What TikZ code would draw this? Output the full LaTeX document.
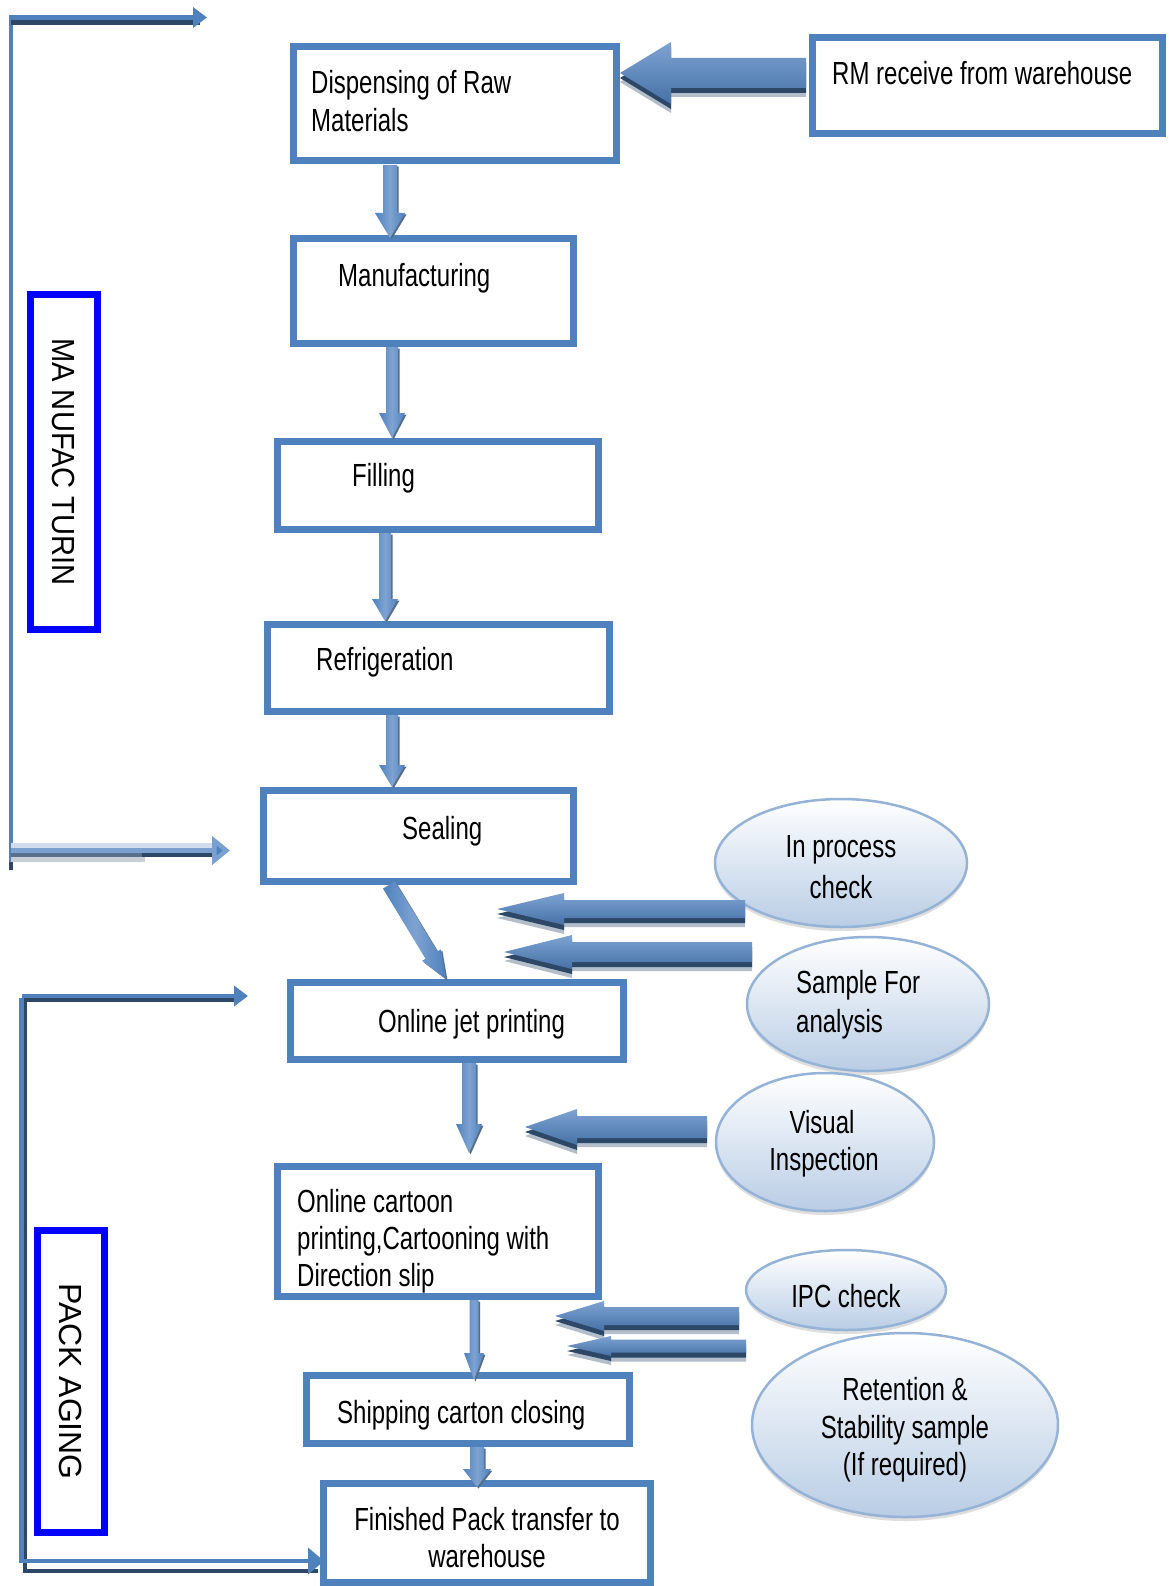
\documentclass[tikz,border=0pt]{standalone}
\usepackage{fontspec}
\setmainfont{Liberation Sans}[FakeStretch=0.75]
\newfontfamily\vfontA{Liberation Sans}[FakeStretch=0.91]
\newfontfamily\vfontB{Liberation Sans}[FakeStretch=1.0]
\usetikzlibrary{shapes.geometric,calc,arrows.meta,shadows}
\definecolor{boxblue}{HTML}{4F81BD}
\definecolor{arrlight}{HTML}{7EA3D2}
\definecolor{darkedge}{HTML}{2C4866}
\definecolor{shadowgray}{HTML}{B4BECB}
\definecolor{ellfill}{HTML}{B9CDE5}
\definecolor{elldraw}{HTML}{95B3D7}
\definecolor{pureblue}{HTML}{0000FF}
\definecolor{lightband}{HTML}{D0DCEE}
\definecolor{midband}{HTML}{7AA0D0}
\definecolor{greyband}{HTML}{C8CED6}
\definecolor{slateband}{HTML}{5A6F8C}
% #1 style, #2 tail, #3 tip, #4 shaft half width, #5 head half width, #6 head length
\newcommand\fatarrow[6]{%
  \path[#1] let \p9=($(#3)!#6!(#2)$) in
    ($(#2)!#4!90:(#3)$) -- ($(\p9)!#4!90:(#3)$) -- ($(\p9)!#5!90:(#3)$) -- (#3)
    -- ($(\p9)!#5!-90:(#3)$) -- ($(\p9)!#4!-90:(#3)$) -- ($(#2)!#4!-90:(#3)$) -- cycle;}
\begin{document}
\begin{tikzpicture}[x=1pt,y=-1pt,
  box/.style={draw=boxblue, line width=7pt, fill=white, inner sep=0pt},
  tagbox/.style={draw=pureblue, line width=7pt, fill=white, inner sep=0pt},
  oval/.style={ellipse, draw=elldraw, line width=2.5pt, inner sep=0pt,
    top color=white, bottom color=ellfill,
    drop shadow={shadow xshift=0pt, shadow yshift=-4pt, fill=gray!50, opacity=0.5}},
  lt/.style={inner sep=0pt, anchor=base west, font=\fontsize{32}{37}\selectfont},
  ct/.style={inner sep=0pt, anchor=base, font=\fontsize{32}{37}\selectfont},
  hfat/.style={preaction={fill=shadowgray, transform canvas={yshift=-9pt}},
    preaction={fill=darkedge, transform canvas={yshift=-5pt}},
    top color=arrlight, middle color=boxblue, bottom color=boxblue!88!black},
  vfat/.style={preaction={fill=darkedge!80, transform canvas={xshift=1.5pt,yshift=-1.5pt}},
    left color=boxblue, right color=boxblue, middle color=arrlight},
  brk/.style={line width=4.5pt, boxblue},
  brkdark/.style={line width=4.5pt, darkedge},
  brktip/.style={-{Triangle[length=14pt,width=20pt]}},
]
\useasboundingbox (0,0) rectangle (1168,1586);
\fill[white] (0,0) rectangle (1168,1586);

% ---------- left brackets ----------
\coordinate (mA) at (11,15);
\coordinate (mB) at (11,870);
\coordinate (mTop) at (207,17.5);
\coordinate (mBot) at (230,850.5);
\draw[boxblue, line width=3.5pt] (mA) -- (11,862);
\draw[darkedge, line width=3.5pt] (11,862) -- (mB);
\draw[darkedge, line width=5pt] (11,22.5) -- (200,22.5);
\draw[boxblue, line width=5pt, brktip] (11,17.5) -- (mTop);
\draw[lightband, line width=5pt] (11,845.5) -- (214,845.5);
\draw[greyband, line width=5pt] (11,859.5) -- (145,859.5);
\draw[slateband, line width=4pt] (11,855) -- (142,855);
\draw[darkedge, line width=4pt] (142,855) -- (222,855);
\draw[midband, line width=5pt, -{Triangle[length=18pt,width=28pt,fill=boxblue]}] (11,850.5) -- (mBot);

\coordinate (pA) at (21.5,996);
\coordinate (pTop) at (248,996);
\coordinate (pBot) at (324,1561);
\draw[brkdark] (236,1000) -- (25,1000) -- (25,1571) -- (318,1571);
\draw[brk] (21.5,998) -- (21.5,1561) -- (310,1561);
\draw[brk, brktip] (pA) -- (pTop);
\draw[brk, -{Triangle[length=16pt,width=26pt]}] (300,1561) -- (pBot);

% ---------- tag boxes ----------
\node[tagbox, rotate=-90, minimum width=335pt, minimum height=67pt,
  font=\vfontA\fontsize{32}{37}\selectfont] (tagM) at (64,462) {MA NUFAC TURIN};
\node[tagbox, rotate=-90, minimum width=302pt, minimum height=67pt,
  font=\vfontB\fontsize{32}{37}\selectfont] (tagP) at (71,1381.5) {PACK AGING};

% ---------- process boxes ----------
\node[box, minimum width=323pt, minimum height=114pt] (disp) at (455,103.5) {};
\node[box, minimum width=350pt, minimum height=96pt]  (rm)   at (987.5,85.5) {};
\node[box, minimum width=280pt, minimum height=105pt] (manu) at (433.5,291) {};
\node[box, minimum width=321pt, minimum height=88pt]  (fill) at (438,485.5) {};
\node[box, minimum width=342pt, minimum height=87pt]  (refr) at (438.5,668) {};
\node[box, minimum width=310pt, minimum height=91pt]  (seal) at (418.5,836) {};
\node[box, minimum width=333pt, minimum height=77pt]  (jet)  at (457,1021) {};
\node[box, minimum width=321pt, minimum height=130pt] (cart) at (438,1231.5) {};
\node[box, minimum width=323pt, minimum height=68pt]  (ship) at (468,1409.5) {};
\node[box, minimum width=327pt, minimum height=99pt]  (fin)  at (487,1533) {};

% ---------- ovals ----------
\node[oval, minimum width=242pt, minimum height=134pt] (sample) at (868,1004) {};
\node[oval, minimum width=252pt, minimum height=128pt] (inproc) at (841,863) {};
\node[oval, minimum width=218pt, minimum height=138pt] (visual) at (825,1142) {};
\node[oval, minimum width=306pt, minimum height=184pt] (ret) at (905,1425) {};
\node[oval, minimum width=200pt, minimum height=80pt] (ipc) at (846,1290) {};

% ---------- fat arrows (horizontal) ----------
\coordinate (rmT) at (806,73);   \coordinate (rmH) at (620,73);
\coordinate (ipT) at (745,909);  \coordinate (ipH) at (497,909);
\coordinate (saT) at (752,952);  \coordinate (saH) at (504,952);
\coordinate (viT) at (707,1127); \coordinate (viH) at (525,1127);
\coordinate (icT) at (739,1316); \coordinate (icH) at (555,1316);
\coordinate (reT) at (746,1346); \coordinate (reH) at (567,1346);
\fatarrow{hfat}{rmT}{rmH}{15pt}{31pt}{51pt}
\fatarrow{hfat}{ipT}{ipH}{9pt}{16pt}{67pt}
\fatarrow{hfat}{saT}{saH}{10pt}{17pt}{68pt}
\fatarrow{hfat}{viT}{viH}{11pt}{18pt}{52pt}
\fatarrow{hfat}{icT}{icH}{9pt}{15pt}{49pt}
\fatarrow{hfat}{reT}{reH}{6.5pt}{10pt}{44pt}

% ---------- fat arrows (flow) ----------
\coordinate (a1) at (390,165);  \coordinate (a1h) at (390,238);
\coordinate (a2) at (392,347);  \coordinate (a2h) at (392,438);
\coordinate (a3) at (385,533);  \coordinate (a3h) at (385,621);
\coordinate (a4) at (392,715);  \coordinate (a4h) at (392,787);
\coordinate (a5) at (389,885);  \coordinate (a5h) at (446,979);
\coordinate (a6) at (469,1063); \coordinate (a6h) at (469,1153);
\coordinate (a7) at (474,1300); \coordinate (a7h) at (474,1380);
\coordinate (a8) at (477,1447); \coordinate (a8h) at (477,1487);
\fatarrow{vfat}{a1}{a1h}{7pt}{15pt}{25pt}
\fatarrow{vfat}{a2}{a2h}{6pt}{13pt}{25pt}
\fatarrow{vfat}{a3}{a3h}{6pt}{13pt}{22pt}
\fatarrow{vfat}{a4}{a4h}{6pt}{13pt}{22pt}
\fatarrow{vfat}{a5}{a5h}{7pt}{11pt}{28pt}
\fatarrow{vfat}{a6}{a6h}{7pt}{13pt}{29pt}
\fatarrow{vfat}{a7}{a7h}{4.5pt}{10pt}{27pt}
\fatarrow{vfat}{a8}{a8h}{7pt}{14pt}{18pt}

% ---------- texts ----------
\node[lt] (tdisp1) at (311,94) {Dispensing of Raw};
\node[lt] (tdisp2) at (311,132) {Materials};
\node[lt] (trm) at (832,85) {RM receive from warehouse};
\node[lt] (tmanu) at (338,287) {Manufacturing};
\node[lt] (tfill) at (352,486) {Filling};
\node[lt] (trefr) at (316,670) {Refrigeration};
\node[lt] (tseal) at (402,839) {Sealing};
\node[lt] (tjet) at (378,1032) {Online jet printing};
\node[lt] (tcart1) at (297,1212) {Online cartoon};
\node[lt] (tcart2) at (297,1249) {printing,Cartooning with};
\node[lt] (tcart3) at (297,1286) {Direction slip};
\node[lt] (tship) at (337,1423) {Shipping carton closing};
\node[ct] (tfin1) at (487,1530) {Finished Pack transfer to};
\node[ct] (tfin2) at (487,1567) {warehouse};
\node[ct] (tin1) at (841,857) {In process};
\node[ct] (tin2) at (841,898) {check};
\node[lt] (tsa1) at (796,993) {Sample For};
\node[lt] (tsa2) at (796,1032) {analysis};
\node[ct] (tvi1) at (822,1133) {Visual};
\node[ct] (tvi2) at (824,1170) {Inspection};
\node[ct] (tipc) at (846,1307) {IPC check};
\node[ct] (tre1) at (905,1400) {Retention \&};
\node[ct] (tre2) at (905,1438) {Stability sample};
\node[ct] (tre3) at (905,1475) {(If required)};
\end{tikzpicture}
\end{document}
